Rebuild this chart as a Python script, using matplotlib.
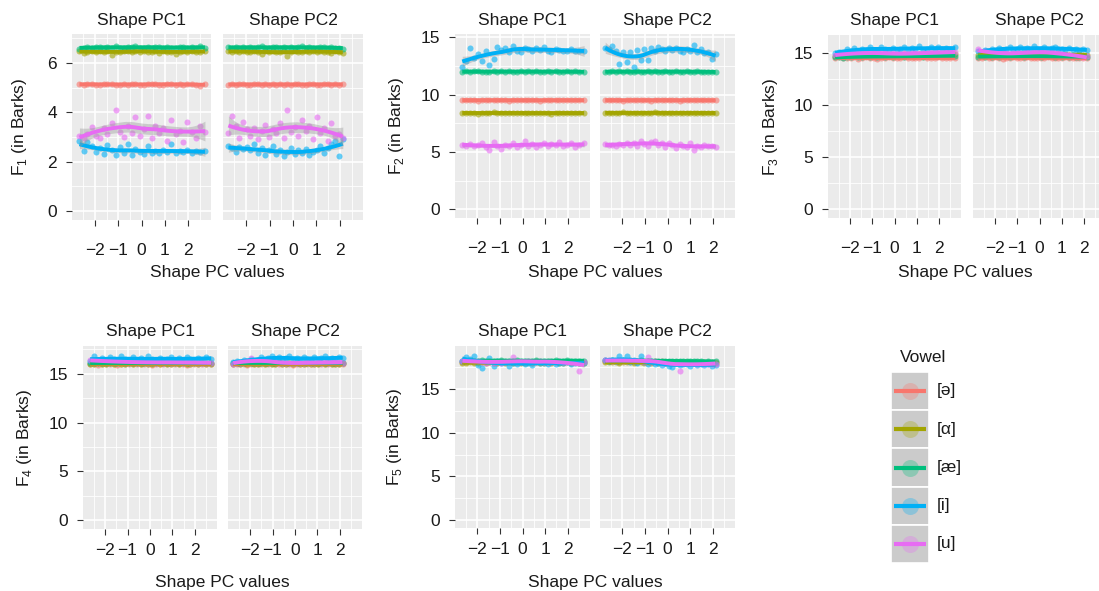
import numpy as np
import matplotlib
matplotlib.use('Agg')
import matplotlib.pyplot as plt
from matplotlib.patches import Rectangle

plt.rcParams['font.family'] = ['Liberation Sans', 'DejaVu Sans']
plt.rcParams['mathtext.fontset'] = 'custom'
plt.rcParams['mathtext.rm'] = 'Liberation Sans'

W, H = 1099, 591

VOWELS = ['[ə]', '[α]', '[æ]', '[i]', '[u]']
COLORS = ['#F8766D', '#A3A500', '#00BF7D', '#00B0F6', '#E76BF3']
FACETS = ['Shape PC1', 'Shape PC2']

PC1_X = [-2.66, -2.48, -2.32, -2.14, -1.97, -1.80, -1.62, -1.46, -1.28, -1.11, -0.94, -0.77, -0.60, -0.42, -0.26, -0.08,
         0.09, 0.26, 0.43, 0.60, 0.77, 0.94, 1.11, 1.28, 1.46, 1.63, 1.80, 1.97, 2.15, 2.32, 2.50, 2.72]
PC2_X = [-2.75, -2.59, -2.44, -2.28, -2.12, -1.97, -1.81, -1.65, -1.50, -1.34, -1.18, -1.03, -0.87, -0.71, -0.56, -0.40,
         -0.25, -0.09, 0.07, 0.22, 0.38, 0.54, 0.69, 0.85, 1.01, 1.16, 1.32, 1.48, 1.63, 1.79, 1.95, 2.12]

# ---- F1 ----
f1_pc1_schwa = [5.14, 5.11, 5.13, 5.16, 5.12, 5.10, 5.14, 5.13, 5.15, 5.11, 5.12, 5.14, 5.09, 5.13, 5.15, 5.12,
                5.11, 5.14, 5.13, 5.16, 5.12, 5.10, 5.13, 5.14, 5.12, 5.15, 5.11, 5.13, 5.14, 5.12, 5.08, 5.13]
f1_pc1_alpha = [6.50, 6.38, 6.46, 6.49, 6.44, 6.47, 6.45, 6.48, 6.30, 6.46, 6.44, 6.50, 6.47, 6.43, 6.48, 6.45,
                6.49, 6.46, 6.44, 6.47, 6.42, 6.48, 6.45, 6.46, 6.36, 6.45, 6.47, 6.43, 6.48, 6.46, 6.44, 6.47]
f1_pc1_ae = [6.58, 6.62, 6.65, 6.60, 6.63, 6.66, 6.61, 6.64, 6.60, 6.67, 6.62, 6.59, 6.64, 6.63, 6.68, 6.61,
             6.62, 6.65, 6.60, 6.63, 6.66, 6.61, 6.64, 6.62, 6.59, 6.65, 6.63, 6.60, 6.64, 6.62, 6.67, 6.61]
f1_pc1_i = [2.85, 2.42, 2.78, 2.62, 2.40, 2.55, 2.30, 2.68, 2.45, 2.25, 2.60, 2.35, 2.72, 2.28, 2.52, 2.40,
            2.30, 2.62, 2.36, 2.44, 2.33, 2.45, 2.37, 2.70, 2.34, 2.41, 2.39, 2.45, 2.36, 2.43, 2.38, 2.42]
f1_pc1_u = [3.05, 2.95, 3.10, 3.40, 3.05, 2.95, 3.35, 3.10, 3.55, 4.10, 3.20, 3.00, 3.45, 3.15, 3.80, 3.05,
            3.30, 3.85, 2.95, 3.45, 3.15, 3.35, 2.85, 3.70, 3.10, 3.25, 2.80, 3.60, 3.20, 2.95, 3.45, 3.20]
f1_pc2_schwa = [5.12, 5.14, 5.11, 5.13, 5.15, 5.12, 5.10, 5.14, 5.13, 5.11, 5.16, 5.12, 5.13, 5.09, 5.14, 5.12,
                5.15, 5.11, 5.13, 5.14, 5.12, 5.10, 5.13, 5.15, 5.12, 5.11, 5.14, 5.13, 5.12, 5.15, 5.11, 5.13]
f1_pc2_alpha = [6.48, 6.45, 6.47, 6.43, 6.49, 6.46, 6.44, 6.48, 6.45, 6.36, 6.47, 6.44, 6.49, 6.46, 6.43, 6.47,
                6.28, 6.45, 6.48, 6.44, 6.46, 6.49, 6.43, 6.47, 6.45, 6.48, 6.44, 6.46, 6.42, 6.47, 6.45, 6.40]
f1_pc2_ae = [6.63, 6.60, 6.65, 6.62, 6.66, 6.61, 6.64, 6.59, 6.63, 6.67, 6.62, 6.60, 6.65, 6.63, 6.61, 6.66,
             6.62, 6.64, 6.60, 6.63, 6.67, 6.61, 6.64, 6.62, 6.59, 6.65, 6.63, 6.61, 6.64, 6.60, 6.62, 6.58]
f1_pc2_i = [2.62, 2.55, 2.40, 2.60, 2.50, 2.58, 2.45, 2.72, 2.35, 2.55, 2.28, 2.48, 2.62, 2.30, 2.45, 2.22,
            2.40, 2.55, 2.30, 2.45, 2.35, 2.52, 2.28, 2.40, 2.48, 2.62, 2.35, 2.55, 2.70, 2.82, 2.22, 2.92]
f1_pc2_u = [3.15, 3.85, 3.45, 2.95, 3.60, 3.30, 3.05, 3.35, 2.90, 3.25, 3.50, 3.00, 3.30, 3.15, 3.55, 2.95,
            4.10, 3.20, 3.40, 3.05, 3.70, 3.25, 3.45, 2.90, 3.80, 3.15, 3.35, 2.85, 3.55, 3.05, 3.10, 2.95]

# ---- F2 ----
f2_pc1_schwa = [9.53, 9.50, 9.55, 9.52, 9.49, 9.54, 9.51, 9.53, 9.56, 9.50, 9.52, 9.54, 9.49, 9.53, 9.51, 9.55,
                9.52, 9.50, 9.54, 9.53, 9.49, 9.52, 9.55, 9.51, 9.53, 9.50, 9.54, 9.52, 9.51, 9.55, 9.50, 9.53]
f2_pc1_alpha = [8.42, 8.38, 8.44, 8.40, 8.36, 8.43, 8.39, 8.41, 8.45, 8.37, 8.40, 8.43, 8.38, 8.42, 8.39, 8.44,
                8.40, 8.37, 8.42, 8.41, 8.38, 8.43, 8.40, 8.36, 8.42, 8.39, 8.44, 8.40, 8.38, 8.42, 8.41, 8.39]
f2_pc1_ae = [12.00, 12.04, 11.98, 12.03, 12.06, 12.00, 12.02, 11.97, 12.05, 12.01, 12.03, 11.99, 12.04, 12.02, 12.00, 12.06,
             11.98, 12.03, 12.01, 12.04, 11.99, 12.02, 12.05, 12.00, 12.03, 11.98, 12.02, 12.04, 12.00, 12.03, 12.01, 11.99]
f2_pc1_i = [12.40, 12.95, 14.10, 13.20, 13.55, 12.95, 13.85, 12.58, 13.08, 14.20, 13.90, 14.05, 13.75, 14.25, 13.85, 13.70,
            14.10, 13.95, 13.80, 14.05, 13.90, 14.20, 13.85, 13.75, 13.95, 13.90, 13.85, 13.80, 13.95, 13.85, 13.80, 13.85]
f2_pc1_u = [5.65, 5.55, 5.70, 5.50, 5.60, 5.75, 5.45, 5.20, 5.85, 5.55, 5.30, 5.65, 5.50, 5.75, 5.40, 5.60,
            5.95, 5.55, 5.70, 5.45, 5.65, 5.80, 5.55, 5.70, 5.60, 5.85, 5.50, 5.65, 5.75, 5.45, 5.60, 5.80]
f2_pc2_schwa = [9.51, 9.54, 9.50, 9.53, 9.55, 9.49, 9.52, 9.54, 9.51, 9.53, 9.50, 9.56, 9.52, 9.49, 9.54, 9.51,
                9.53, 9.55, 9.50, 9.52, 9.54, 9.49, 9.53, 9.51, 9.55, 9.52, 9.50, 9.53, 9.54, 9.51, 9.52, 9.50]
f2_pc2_alpha = [8.44, 8.40, 8.43, 8.38, 8.42, 8.45, 8.39, 8.41, 8.37, 8.43, 8.40, 8.44, 8.38, 8.42, 8.46, 8.39,
                8.41, 8.43, 8.37, 8.42, 8.40, 8.44, 8.39, 8.41, 8.43, 8.38, 8.42, 8.40, 8.44, 8.39, 8.41, 8.40]
f2_pc2_ae = [12.02, 11.98, 12.04, 12.00, 12.03, 11.97, 12.05, 12.01, 11.99, 12.04, 12.02, 11.98, 12.03, 12.00, 12.06, 11.99,
             12.02, 12.04, 11.98, 12.01, 12.03, 11.99, 12.02, 12.05, 12.00, 11.98, 12.03, 12.01, 11.99, 12.02, 12.00, 11.97]
f2_pc2_i = [14.05, 13.95, 14.24, 13.85, 12.64, 13.70, 12.87, 13.75, 12.38, 13.90, 13.00, 13.95, 13.00, 14.10, 13.85, 14.15,
            13.95, 13.80, 14.05, 13.90, 14.10, 13.85, 13.75, 14.00, 13.85, 14.33, 13.75, 13.95, 13.60, 13.70, 13.16, 13.55]
f2_pc2_u = [5.70, 5.60, 5.65, 5.55, 5.70, 5.60, 5.75, 5.65, 5.80, 5.55, 5.95, 5.70, 5.50, 5.85, 6.00, 5.65,
            5.75, 5.45, 5.80, 5.60, 5.35, 5.70, 5.55, 5.40, 5.75, 5.20, 5.55, 5.45, 5.60, 5.50, 5.55, 5.45]

# ---- F3 ----
f3_pc1_schwa = [14.55, 14.60, 14.50, 14.58, 14.52, 14.62, 14.48, 14.56, 14.60, 14.50, 14.55, 14.45, 14.58, 14.53, 14.60, 14.50,
                14.56, 14.52, 14.62, 14.55, 14.50, 14.58, 14.54, 14.60, 14.50, 14.56, 14.52, 14.60, 14.55, 14.50, 14.58, 14.55]
f3_pc1_alpha = [14.70, 14.78, 14.72, 14.80, 14.75, 14.82, 14.70, 14.78, 14.85, 14.74, 14.80, 14.76, 14.83, 14.78, 14.72, 14.85,
                14.80, 14.76, 14.88, 14.80, 14.84, 14.78, 14.90, 14.82, 14.86, 14.80, 14.92, 14.84, 14.88, 14.95, 14.86, 14.90]
f3_pc1_ae = [14.60, 14.65, 14.58, 14.66, 14.62, 14.70, 14.64, 14.68, 14.72, 14.66, 14.70, 14.64, 14.72, 14.68, 14.74, 14.66,
             14.70, 14.72, 14.68, 14.74, 14.70, 14.76, 14.72, 14.68, 14.75, 14.72, 14.78, 14.74, 14.70, 14.78, 14.74, 14.76]
f3_pc1_i = [15.00, 15.15, 14.95, 15.40, 15.25, 15.50, 15.20, 15.45, 15.30, 15.60, 15.35, 15.25, 15.55, 15.40, 15.30, 15.50,
            15.35, 15.45, 15.60, 15.30, 15.50, 15.40, 15.65, 15.35, 15.45, 15.55, 15.40, 15.60, 15.45, 15.50, 15.40, 15.55]
f3_pc1_u = [14.80, 14.90, 14.85, 14.95, 14.90, 15.00, 14.95, 15.05, 15.10, 15.00, 15.08, 14.95, 15.05, 14.98, 14.92, 15.00,
            14.95, 14.90, 15.00, 14.94, 14.98, 15.02, 14.96, 15.05, 15.00, 15.08, 15.02, 15.10, 15.05, 15.12, 15.06, 15.10]
f3_pc2_schwa = [14.58, 14.52, 14.60, 14.55, 14.50, 14.62, 14.54, 14.48, 14.58, 14.55, 14.60, 14.52, 14.56, 14.50, 14.62, 14.55,
                14.52, 14.58, 14.50, 14.56, 14.60, 14.53, 14.58, 14.50, 14.55, 14.60, 14.52, 14.56, 14.50, 14.58, 14.54, 14.52]
f3_pc2_alpha = [14.85, 14.80, 14.88, 14.82, 14.86, 14.78, 14.84, 14.90, 14.82, 14.86, 14.80, 14.88, 14.84, 14.92, 14.86, 14.82,
                14.88, 14.85, 14.90, 14.84, 14.88, 14.82, 14.86, 14.90, 14.84, 14.88, 14.82, 14.86, 14.84, 14.88, 14.82, 14.85]
f3_pc2_ae = [14.66, 14.70, 14.64, 14.72, 14.68, 14.74, 14.66, 14.70, 14.72, 14.68, 14.75, 14.70, 14.72, 14.66, 14.74, 14.70,
             14.76, 14.72, 14.68, 14.74, 14.70, 14.72, 14.66, 14.70, 14.68, 14.72, 14.66, 14.70, 14.68, 14.64, 14.70, 14.66]
f3_pc2_i = [15.20, 15.05, 15.35, 15.25, 15.45, 15.30, 15.50, 15.35, 15.40, 15.55, 15.30, 15.45, 15.60, 15.40, 15.50, 15.35,
            15.65, 15.45, 15.40, 15.55, 15.35, 15.50, 15.60, 15.40, 15.45, 15.30, 15.50, 15.35, 15.40, 15.25, 15.45, 15.30]
f3_pc2_u = [15.40, 15.15, 15.20, 15.05, 15.00, 14.95, 15.05, 14.98, 15.00, 14.95, 15.02, 15.00, 15.05, 14.98, 15.08, 15.02,
            15.10, 15.05, 15.12, 15.08, 15.05, 15.10, 15.02, 15.00, 14.95, 14.85, 14.80, 14.75, 14.70, 14.72, 14.65, 14.70]

# ---- F4 ----
f4_pc1_schwa = [15.98, 16.02, 15.95, 16.00, 16.04, 15.97, 16.01, 15.94, 16.03, 15.99, 16.02, 15.96, 16.00, 16.05, 15.97, 16.01,
                15.95, 16.03, 15.99, 16.02, 15.96, 16.00, 16.04, 15.98, 16.01, 15.95, 16.02, 15.99, 16.03, 15.97, 16.00, 15.98]
f4_pc1_alpha = [16.05, 16.02, 16.08, 16.04, 16.00, 16.07, 16.03, 16.06, 16.01, 16.05, 16.09, 16.03, 16.06, 16.02, 16.07, 16.04,
                16.00, 16.06, 16.03, 16.08, 16.04, 16.01, 16.06, 16.03, 16.07, 16.02, 16.05, 16.08, 16.03, 16.06, 16.02, 16.05]
f4_pc1_ae = [16.12, 16.08, 16.15, 16.10, 16.06, 16.14, 16.09, 16.12, 16.17, 16.10, 16.13, 16.08, 16.15, 16.11, 16.07, 16.14,
             16.10, 16.12, 16.16, 16.09, 16.13, 16.08, 16.12, 16.15, 16.10, 16.14, 16.08, 16.12, 16.10, 16.15, 16.11, 16.09]
f4_pc1_i = [16.30, 16.85, 16.45, 16.60, 16.25, 16.75, 16.50, 16.40, 16.80, 16.55, 16.35, 16.70, 16.45, 16.60, 16.30, 16.85,
            16.50, 16.40, 16.65, 16.35, 16.55, 16.75, 16.45, 16.60, 16.40, 16.70, 16.50, 16.35, 16.65, 16.45, 16.75, 16.55]
f4_pc1_u = [16.40, 16.30, 16.38, 16.28, 16.32, 16.25, 16.30, 16.22, 16.26, 16.20, 16.24, 16.18, 16.22, 16.16, 16.20, 16.14,
            16.18, 16.15, 16.20, 16.14, 16.18, 16.12, 16.16, 16.20, 16.14, 16.18, 16.12, 16.16, 16.14, 16.10, 16.15, 16.12]
f4_pc2_schwa = [16.01, 15.97, 16.03, 15.99, 15.95, 16.02, 15.98, 16.04, 16.00, 15.96, 16.02, 15.99, 16.05, 15.97, 16.01, 15.98,
                16.03, 15.95, 16.00, 16.02, 15.97, 16.04, 15.99, 16.01, 15.96, 16.03, 15.98, 16.00, 16.02, 15.97, 16.01, 15.99]
f4_pc2_alpha = [16.04, 16.07, 16.02, 16.06, 16.03, 16.08, 16.01, 16.05, 16.07, 16.02, 16.06, 16.04, 16.00, 16.07, 16.03, 16.05,
                16.08, 16.02, 16.06, 16.04, 16.01, 16.07, 16.03, 16.05, 16.02, 16.06, 16.04, 16.08, 16.02, 16.05, 16.03, 16.06]
f4_pc2_ae = [16.10, 16.14, 16.08, 16.13, 16.16, 16.10, 16.12, 16.07, 16.14, 16.11, 16.15, 16.09, 16.12, 16.16, 16.10, 16.13,
             16.08, 16.14, 16.11, 16.09, 16.15, 16.12, 16.10, 16.14, 16.08, 16.12, 16.15, 16.10, 16.13, 16.09, 16.12, 16.10]
f4_pc2_i = [16.20, 16.35, 16.15, 16.40, 16.25, 16.55, 16.30, 16.45, 16.70, 16.40, 16.60, 16.85, 16.50, 16.75, 16.45, 16.65,
            16.80, 16.50, 16.60, 16.40, 16.75, 16.55, 16.45, 16.70, 16.50, 16.60, 16.80, 16.45, 16.65, 16.55, 16.75, 16.60]
f4_pc2_u = [16.05, 16.10, 16.15, 16.25, 16.30, 16.60, 16.32, 16.40, 16.35, 16.30, 16.28, 16.22, 16.20, 16.15, 16.12, 16.10,
            16.08, 16.12, 16.10, 16.15, 16.12, 16.18, 16.14, 16.10, 16.16, 16.12, 16.18, 16.14, 16.20, 16.16, 16.18, 16.14]

# ---- F5 ----
f5_pc1_schwa = [18.15, 18.12, 18.18, 18.14, 18.10, 18.17, 18.13, 18.16, 18.11, 18.15, 18.19, 18.13, 18.16, 18.12, 18.17, 18.14,
                18.10, 18.16, 18.13, 18.18, 18.14, 18.11, 18.16, 18.13, 18.17, 18.12, 18.15, 18.18, 18.13, 18.16, 18.12, 18.15]
f5_pc1_alpha = [18.05, 18.02, 18.08, 18.04, 18.00, 18.07, 18.03, 18.06, 18.01, 18.05, 18.09, 18.03, 18.06, 18.02, 18.07, 18.04,
                18.00, 18.06, 18.03, 18.08, 18.04, 18.01, 18.06, 18.03, 18.07, 18.02, 18.05, 18.08, 18.03, 18.06, 18.02, 18.05]
f5_pc1_ae = [18.28, 18.24, 18.30, 18.26, 18.22, 18.29, 18.25, 18.28, 18.23, 18.27, 18.31, 18.25, 18.28, 18.24, 18.29, 18.26,
             18.22, 18.28, 18.25, 18.30, 18.26, 18.23, 18.28, 18.25, 18.29, 18.24, 18.27, 18.30, 18.25, 18.28, 18.24, 18.26]
f5_pc1_i = [18.20, 18.70, 18.45, 18.85, 17.80, 17.45, 18.10, 18.60, 17.70, 18.25, 17.95, 18.10, 17.60, 18.00, 17.85, 18.15,
            17.90, 18.05, 17.80, 18.10, 17.95, 18.00, 17.85, 18.15, 17.90, 18.05, 17.95, 18.10, 17.85, 18.00, 17.95, 18.05]
f5_pc1_u = [18.25, 18.20, 18.28, 18.22, 18.18, 18.12, 18.05, 18.10, 18.02, 18.08, 18.05, 18.12, 18.10, 18.70, 18.15, 18.08,
            18.12, 18.18, 18.10, 18.15, 18.20, 18.12, 18.16, 18.10, 18.14, 18.18, 18.12, 18.15, 18.10, 18.14, 17.05, 18.08]
f5_pc2_schwa = [18.22, 18.18, 18.24, 18.20, 18.17, 18.23, 18.19, 18.21, 18.16, 18.20, 18.22, 18.17, 18.19, 18.15, 18.20, 18.16,
                18.18, 18.14, 18.17, 18.15, 18.12, 18.16, 18.13, 18.15, 18.11, 18.14, 18.10, 18.13, 18.09, 18.12, 18.08, 18.10]
f5_pc2_alpha = [18.10, 18.06, 18.12, 18.08, 18.05, 18.11, 18.07, 18.09, 18.04, 18.08, 18.10, 18.05, 18.07, 18.03, 18.08, 18.04,
                18.06, 18.02, 18.05, 18.03, 18.00, 18.04, 18.01, 18.03, 17.99, 18.02, 17.98, 18.01, 17.97, 18.00, 17.96, 17.98]
f5_pc2_ae = [18.30, 18.27, 18.32, 18.28, 18.25, 18.31, 18.27, 18.29, 18.24, 18.28, 18.30, 18.25, 18.27, 18.23, 18.28, 18.24,
             18.26, 18.22, 18.25, 18.23, 18.20, 18.24, 18.21, 18.23, 18.19, 18.22, 18.18, 18.21, 18.17, 18.20, 18.16, 18.18]
f5_pc2_i = [18.30, 18.25, 18.40, 18.20, 18.85, 18.35, 18.80, 18.15, 18.30, 17.95, 18.80, 18.10, 17.90, 18.25, 17.85, 18.05,
            17.80, 17.95, 17.70, 17.55, 18.00, 17.75, 17.90, 17.85, 17.60, 17.95, 17.80, 17.90, 17.75, 17.85, 17.70, 17.80]
f5_pc2_u = [18.35, 18.30, 18.28, 18.25, 18.30, 18.22, 18.25, 18.20, 18.22, 18.18, 18.20, 18.15, 18.70, 18.12, 18.10, 18.08,
            18.05, 18.02, 18.05, 18.00, 18.02, 17.05, 18.00, 17.98, 17.95, 17.98, 17.92, 17.95, 17.90, 17.92, 17.88, 17.85]

PANELS = [
    ('1', [[f1_pc1_schwa, f1_pc1_alpha, f1_pc1_ae, f1_pc1_i, f1_pc1_u],
           [f1_pc2_schwa, f1_pc2_alpha, f1_pc2_ae, f1_pc2_i, f1_pc2_u]]),
    ('2', [[f2_pc1_schwa, f2_pc1_alpha, f2_pc1_ae, f2_pc1_i, f2_pc1_u],
           [f2_pc2_schwa, f2_pc2_alpha, f2_pc2_ae, f2_pc2_i, f2_pc2_u]]),
    ('3', [[f3_pc1_schwa, f3_pc1_alpha, f3_pc1_ae, f3_pc1_i, f3_pc1_u],
           [f3_pc2_schwa, f3_pc2_alpha, f3_pc2_ae, f3_pc2_i, f3_pc2_u]]),
    ('4', [[f4_pc1_schwa, f4_pc1_alpha, f4_pc1_ae, f4_pc1_i, f4_pc1_u],
           [f4_pc2_schwa, f4_pc2_alpha, f4_pc2_ae, f4_pc2_i, f4_pc2_u]]),
    ('5', [[f5_pc1_schwa, f5_pc1_alpha, f5_pc1_ae, f5_pc1_i, f5_pc1_u],
           [f5_pc2_schwa, f5_pc2_alpha, f5_pc2_ae, f5_pc2_i, f5_pc2_u]]),
]

# layout in pixels: facet boxes (x0, y0, x1, y1), y limits, y ticks, label positions
BOXES = [
    [(72, 34, 211, 220), (223, 34, 363, 220)],
    [(455, 34, 590, 218), (600, 34, 735, 218)],
    [(828, 35, 961, 218), (973, 35, 1106, 218)],
    [(83, 346, 217, 529), (228, 346, 362, 529)],
    [(455, 346, 590, 528), (600, 346, 735, 528)],
]
YLIMS = [(-0.37, 7.17), (-0.76, 15.3), (-0.83, 16.75), (-0.9, 17.85), (-0.93, 19.95)]
YMAJOR = [[0, 2, 4, 6], [0, 5, 10, 15], [0, 5, 10, 15], [0, 5, 10, 15], [0, 5, 10, 15]]
YMINOR = [[1, 3, 5, 7], [2.5, 7.5, 12.5], [2.5, 7.5, 12.5], [2.5, 7.5, 12.5, 17.5], [2.5, 7.5, 12.5, 17.5]]
YLAB_X = [20, 397, 771, 25, 395]


def loess(x, y, span=0.75, n_grid=80):
    x = np.asarray(x, float)
    y = np.asarray(y, float)
    n = len(x)
    q = int(np.ceil(span * n))

    def row(x0):
        d = np.abs(x - x0)
        h = np.sort(d)[q - 1]
        w = np.clip(1 - (d / h) ** 3, 0, None) ** 3
        X = np.column_stack([np.ones(n), x - x0, (x - x0) ** 2])
        XtW = X.T * w
        return np.linalg.solve(XtW @ X, XtW)[0]

    L = np.array([row(v) for v in x])
    resid = y - L @ y
    sigma = np.sqrt(np.sum(resid ** 2) / (n - np.trace(L)))
    grid = np.linspace(x.min(), x.max(), n_grid)
    G = np.array([row(v) for v in grid])
    return grid, G @ y, sigma * np.sqrt(np.sum(G ** 2, axis=1))


def px_axes(fig, box):
    x0, y0, x1, y1 = box
    return fig.add_axes([x0 / W, 1 - y1 / H, (x1 - x0) / W, (y1 - y0) / H])


fig = plt.figure(figsize=(W / 100, H / 100), dpi=100)
fig.patch.set_facecolor('white')

for p, (fnum, facets) in enumerate(PANELS):
    top_row = p < 3
    for j, series in enumerate(facets):
        ax = px_axes(fig, BOXES[p][j])
        xs = PC1_X if j == 0 else PC2_X
        ax.set_facecolor('#EBEBEB')
        for v in range(5):
            ax.scatter(xs, series[v], s=19, color=COLORS[v], alpha=0.6, linewidths=0, zorder=2)
        for v in range(5):
            gx, fit, se = loess(xs, series[v])
            ax.fill_between(gx, fit - 2 * se, fit + 2 * se, color='#999999', alpha=0.4, lw=0, zorder=3 + 2 * v)
            ax.plot(gx, fit, color=COLORS[v], lw=2.8, zorder=4 + 2 * v, solid_capstyle='butt')
        ax.set_xlim(-2.98, 2.98)
        ax.set_ylim(YLIMS[p])
        ax.set_xticks([-2, -1, 0, 1, 2])
        ax.set_xticks([-2.5, -1.5, -0.5, 0.5, 1.5, 2.5], minor=True)
        ax.set_yticks(YMAJOR[p])
        ax.set_yticks(YMINOR[p], minor=True)
        ax.grid(which='major', color='white', lw=1.2)
        ax.grid(which='minor', color='white', lw=0.6)
        ax.set_axisbelow(True)
        for s in ax.spines.values():
            s.set_visible(False)
        ax.tick_params(which='minor', length=0)
        ax.tick_params(which='major', length=4.3, width=0.8, color='#333333',
                       labelsize=12.5, labelcolor='#1A1A1A')
        ax.tick_params(axis='x', pad=12.5 if top_row else 5.5)
        ax.tick_params(axis='y', pad=6.5)
        if j == 1:
            ax.tick_params(axis='y', left=False, labelleft=False)
        x0, y0, x1, y1 = BOXES[p][j]
        fig.text((x0 + x1) / 2 / W, 1 - (y0 - 14) / H, FACETS[j], ha='center', va='center',
                 fontsize=12.5, color='#1A1A1A')
    b0, b1 = BOXES[p]
    cx = (b0[0] + b1[2]) / 2
    if p == 2:
        cx = (b0[0] + 1099) / 2 + 2
    fig.text(cx / W, 1 - (272 if top_row else 582) / H, 'Shape PC values',
             ha='center', va='center', fontsize=12.5, color='#1A1A1A')
    fig.text(YLAB_X[p] / W, 1 - (b0[1] + b0[3]) / 2 / H, 'F$_{%s}$ (in Barks)' % fnum,
             rotation=90, ha='center', va='center', fontsize=12.5, color='#1A1A1A')

# legend
leg = px_axes(fig, (891, 372, 929, 563))
leg.set_xlim(0, 1)
leg.set_ylim(0, 5)
leg.axis('off')
for k, (lab, col) in enumerate(zip(VOWELS, COLORS)):
    yb = 4 - k
    leg.add_patch(Rectangle((0, yb), 1, 1, facecolor='#CBCBCB', edgecolor='white', lw=1.2))
    leg.scatter([0.5], [yb + 0.5], s=150, color=col, alpha=0.3, linewidths=0, zorder=3)
    leg.plot([0.08, 0.92], [yb + 0.5, yb + 0.5], color=col, lw=3, solid_capstyle='butt', zorder=4)
    fig.text(937 / W, 1 - (372 + 38.2 * k + 19) / H, lab, ha='left', va='center',
             fontsize=12.5, color='#1A1A1A')
fig.text(923 / W, 1 - 357 / H, 'Vowel', ha='center', va='center', fontsize=12.5, color='#1A1A1A')

fig.savefig('out.png', dpi=100)
